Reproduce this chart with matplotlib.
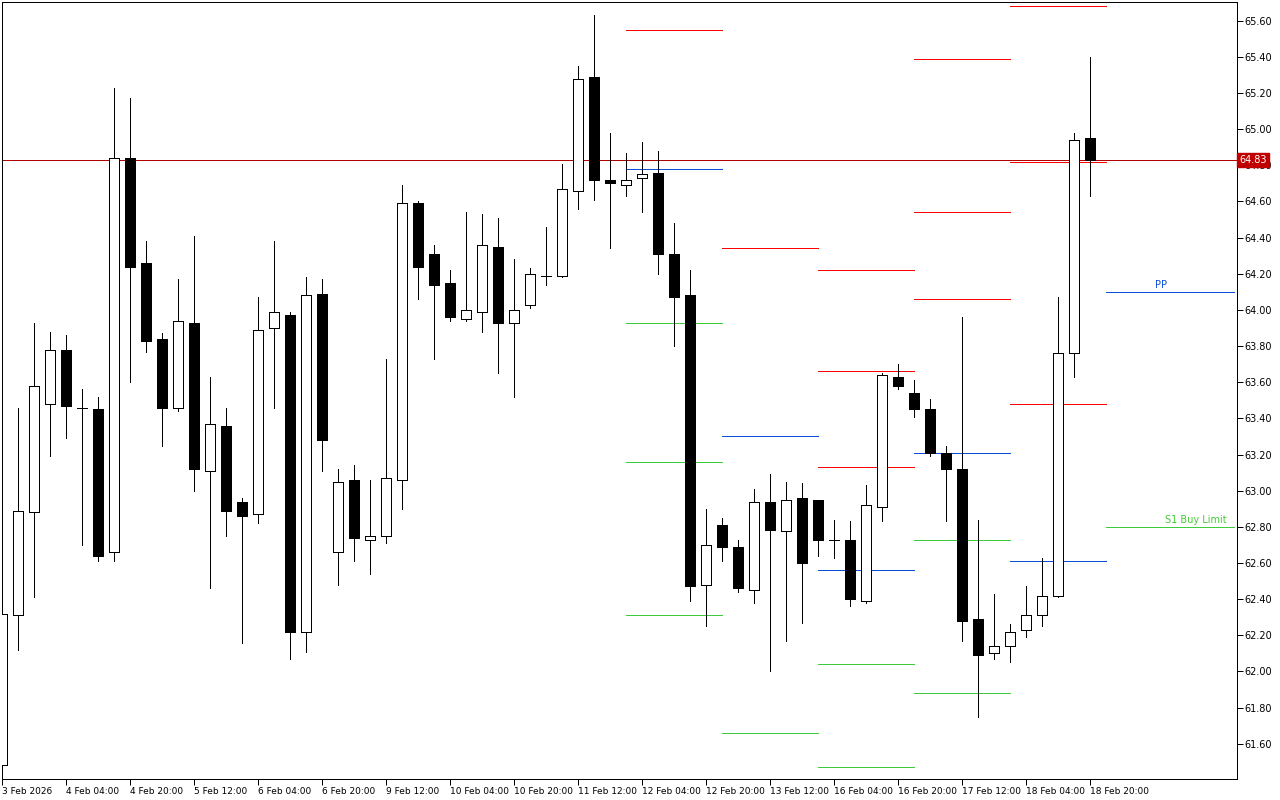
import matplotlib
matplotlib.use("Agg")
import matplotlib.pyplot as plt
from matplotlib.patches import Rectangle
import matplotlib.transforms as mtransforms
import numpy as np

# ---- 4H candles (index 0 = 3 Feb 2026 12:00) ----
opens = [61.48, 62.31, 62.88, 63.48, 63.78, 63.46, 63.45, 62.66, 64.84, 64.26,
         63.84, 63.46, 63.93, 63.11, 63.36, 62.94, 62.87, 63.90, 63.97, 62.22,
         64.09, 62.66, 63.06, 62.73, 62.75, 63.06, 64.59, 64.31, 64.15, 63.95,
         63.99, 64.35, 63.93, 64.03, 64.19, 64.19, 64.66, 65.29, 64.72, 64.69,
         64.73, 64.76, 64.31, 64.08, 62.48, 62.81, 62.69, 62.45, 62.94, 62.775,
         62.96, 62.95, 62.73, 62.725, 62.39, 62.91, 63.63, 63.54, 63.45, 63.21,
         63.12, 62.29, 62.10, 62.14, 62.23, 62.31, 62.42, 63.76, 64.95]
highs = [62.33, 63.46, 63.93, 63.88, 63.86, 63.56, 63.52, 65.23, 65.17, 64.38,
         63.87, 64.17, 64.41, 63.63, 63.46, 62.96, 64.07, 64.38, 63.99, 64.18,
         64.17, 63.12, 63.14, 63.06, 63.73, 64.69, 64.60, 64.36, 64.22, 64.54,
         64.53, 64.51, 64.28, 64.23, 64.46, 64.81, 65.35, 65.63, 64.98, 64.87,
         64.93, 64.88, 64.48, 64.22, 62.90, 62.85, 62.73, 63.01, 63.09, 63.05,
         63.04, 62.95, 62.84, 62.83, 63.03, 63.65, 63.70, 63.61, 63.51, 63.25,
         63.96, 62.84, 62.43, 62.26, 62.47, 62.63, 64.07, 64.98, 65.40]
lows = [61.47, 62.12, 62.41, 63.19, 63.29, 62.70, 62.61, 62.61, 63.60, 63.77,
        63.25, 63.44, 63.00, 62.46, 62.75, 62.16, 62.82, 63.46, 62.07, 62.11,
        63.11, 62.48, 62.61, 62.54, 62.71, 62.90, 64.06, 63.73, 63.94, 63.94,
        63.88, 63.65, 63.52, 64.01, 64.14, 64.18, 64.56, 64.61, 64.34, 64.63,
        64.54, 64.20, 63.80, 62.39, 62.25, 62.61, 62.44, 62.38, 62.00, 62.17,
        62.27, 62.64, 62.63, 62.36, 62.38, 62.83, 63.56, 63.41, 63.19, 62.83,
        62.17, 61.75, 62.07, 62.05, 62.19, 62.25, 62.41, 63.63, 64.63]
closes = [62.32, 62.89, 63.58, 63.78, 63.47, 63.46, 62.64, 64.84, 64.24, 63.83,
          63.46, 63.94, 63.12, 63.37, 62.89, 62.86, 63.89, 63.99, 62.22, 64.08,
          63.28, 63.05, 62.74, 62.75, 63.07, 64.59, 64.24, 64.14, 63.96, 64.00,
          64.36, 63.93, 64.00, 64.20, 64.19, 64.67, 65.28, 64.72, 64.70, 64.72,
          64.75, 64.31, 64.07, 62.47, 62.70, 62.69, 62.46, 62.94, 62.78, 62.95,
          62.60, 62.73, 62.73, 62.40, 62.92, 63.64, 63.58, 63.45, 63.21, 63.12,
          62.28, 62.09, 62.14, 62.22, 62.31, 62.42, 63.76, 64.94, 64.83]

tick_labels = ["3 Feb 2026", "4 Feb 04:00", "4 Feb 20:00", "5 Feb 12:00", "6 Feb 04:00",
               "6 Feb 20:00", "9 Feb 12:00", "10 Feb 04:00", "10 Feb 20:00", "11 Feb 12:00",
               "12 Feb 04:00", "12 Feb 20:00", "13 Feb 12:00", "16 Feb 04:00", "16 Feb 20:00",
               "17 Feb 12:00", "18 Feb 04:00", "18 Feb 20:00"]

# ---- daily pivot levels (start/end candle index of each day) ----
seg_start = [39, 45, 51, 57, 63, 69]
seg_end = [45, 51, 57, 63, 69, 77]
seg_red = [[65.55], [64.34], [64.22, 63.66, 63.13], [65.39, 64.54, 64.06], [65.68, 64.82, 63.48], []]
seg_blue = [[64.78], [63.30], [62.56], [63.21], [62.61], [64.10]]
seg_green = [[63.93, 63.16, 62.31], [61.66], [62.04, 61.47], [62.73, 61.88], [], [62.80]]

current_price = 64.83

RED = "#ff0000"
BLUE = "#0a50d8"
GREEN = "#3ccc3c"
LW = 0.72

fig = plt.figure(figsize=(12.8, 8), dpi=100)
fig.patch.set_facecolor("white")
ax = fig.add_axes([2.3 / 1280, 21 / 800, 1235 / 1280, 776.7 / 800])
ax.set_xlim(0, 77.19)
ax.set_ylim(61.405, 65.702)

# pivot segments
for s, e, reds, blues, greens in zip(seg_start, seg_end, seg_red, seg_blue, seg_green):
    for lv in reds:
        ax.hlines(lv, s, e, color=RED, lw=LW, zorder=1, antialiased=False)
    for lv in blues:
        ax.hlines(lv, s, e, color=BLUE, lw=LW, zorder=1, antialiased=False)
    for lv in greens:
        ax.hlines(lv, s, e, color=GREEN, lw=LW, zorder=1, antialiased=False)

# current price line
ax.axhline(current_price, color="#b00000", lw=LW, zorder=1, antialiased=False)

# candles
bw = 0.6
for i, (o, h, l, c) in enumerate(zip(opens, highs, lows, closes)):
    ax.vlines(i, l, h, color="black", lw=LW, zorder=2, antialiased=False)
    if abs(c - o) < 0.004:
        ax.hlines(o, i - bw / 2, i + bw / 2, color="black", lw=LW, zorder=3, antialiased=False)
    else:
        bull = c > o
        ax.add_patch(Rectangle((i - bw / 2, min(o, c)), bw, abs(c - o),
                               facecolor="white" if bull else "black",
                               edgecolor="black", lw=LW, zorder=3, antialiased=False))

# labels on current-day lines
ax.annotate("PP", xy=(72.4, seg_blue[5][0]), xytext=(0, 1), textcoords="offset points",
            ha="center", va="bottom", color=BLUE, fontsize=7, family="DejaVu Sans")
ax.annotate("S1 Buy Limit", xy=(74.6, seg_green[5][0]), xytext=(0, 1), textcoords="offset points",
            ha="center", va="bottom", color="#44cc33", fontsize=7, family="DejaVu Sans")

# axes styling
for sp in ax.spines.values():
    sp.set_color("black")
    sp.set_linewidth(LW)

yt = np.round(np.arange(61.6, 65.61, 0.2), 2)
ax.set_yticks(yt)
ax.set_yticklabels([f"{v:.2f}" for v in yt])
ax.yaxis.tick_right()
ax.tick_params(axis="y", direction="out", length=4, width=LW, pad=1, labelsize=7, colors="black")

xt = list(range(0, 69, 4))
ax.set_xticks(xt)
ax.set_xticklabels(tick_labels, ha="left")
ax.tick_params(axis="x", direction="out", length=4, width=LW, pad=2, labelsize=6.5, colors="black")
for lab in ax.get_xticklabels():
    lab.set_horizontalalignment("left")

# current price tag on axis (covers the 64.80 label as in the terminal)
trans = mtransforms.blended_transform_factory(ax.transAxes, ax.transData)
ax.text(1.0017, current_price, f"{current_price:.2f}", transform=trans, ha="left", va="center",
        color="white", fontsize=7, zorder=10, clip_on=False,
        bbox=dict(boxstyle="square,pad=0.2", facecolor="#c00000", edgecolor="#c00000"))

fig.savefig("out.png", dpi=100, facecolor="white")
